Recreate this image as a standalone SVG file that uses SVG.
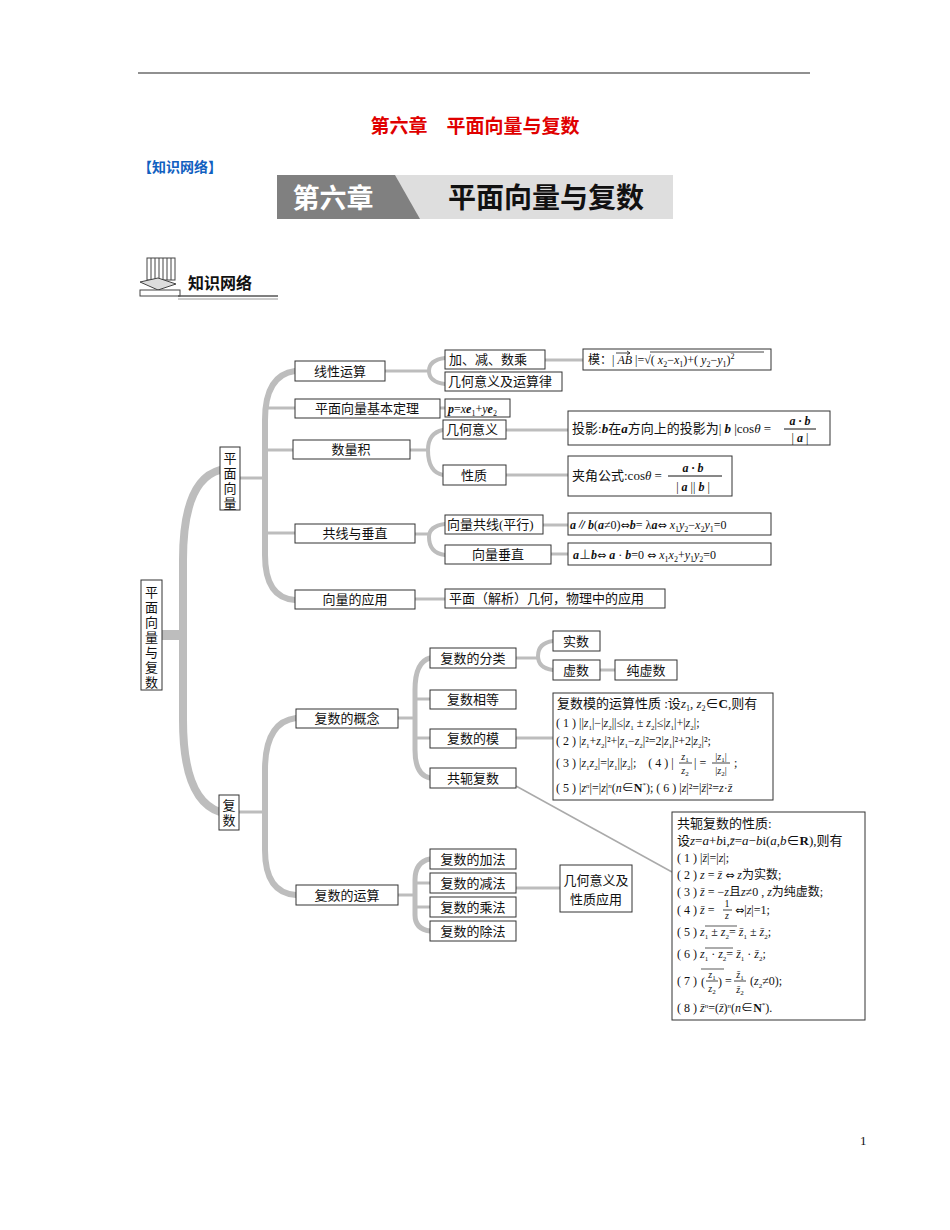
<svg xmlns="http://www.w3.org/2000/svg" width="950" height="1230" viewBox="0 0 950 1230">
<style>
text{font-family:"Liberation Serif","Noto Sans CJK SC",serif;fill:#111}
.b{fill:#fff;stroke:#333;stroke-width:1}
.t{font-size:13px}
.f{font-size:12px}
.c{text-anchor:middle}
.br{fill:none;stroke:#bdbdbd;stroke-width:5;stroke-linecap:round}
.ln{fill:none;stroke:#bdbdbd;stroke-width:3}
.it{font-style:italic}
.bd{font-weight:bold;font-style:italic}
.eq{font-family:"DejaVu Sans",sans-serif;font-size:11px}
</style>
<line x1="138" y1="73" x2="810" y2="73" stroke="#222" stroke-width="1.2"/>
<text x="475" y="133" class="c" style="font-size:19px;font-weight:bold;fill:#e00000">第六章　平面向量与复数</text>
<text x="138" y="172" style="font-size:14px;font-weight:bold;fill:#1060c0">【知识网络】</text>
<g id="banner">
<rect x="277" y="175" width="396" height="44" fill="#dedede"/>
<polygon points="277,175 395,175 420,219 277,219" fill="#808080"/>
<text x="333" y="208" class="c" style="font-size:27px;font-weight:bold;fill:#fff;font-family:'Noto Sans CJK SC',sans-serif">第六章</text>
<text x="546" y="208" class="c" style="font-size:28px;font-weight:bold;fill:#111;font-family:'Noto Sans CJK SC',sans-serif">平面向量与复数</text>
</g>
<g id="icon">
<rect x="147" y="258" width="28" height="22" fill="#fff" stroke="#444"/>
<path d="M151,258v22M155,258v22M159,258v22M163,258v22M167,258v22M171,258v22" stroke="#444"/>
<path d="M140,282 l18,-4 l18,6 l-18,6z" fill="#ddd" stroke="#444"/>
<rect x="140" y="290" width="40" height="6" fill="#fff" stroke="#444"/>
<text x="188" y="289" style="font-size:16px;font-weight:bold;font-family:'Noto Sans CJK SC',sans-serif">知识网络</text>
<line x1="178" y1="296" x2="278" y2="296" stroke="#555" stroke-width="1.5"/>
<line x1="178" y1="299" x2="278" y2="299" stroke="#999" stroke-width="1"/>
</g>
<g id="connectors">
<line x1="162" y1="635" x2="184" y2="635" stroke="#bdbdbd" stroke-width="10"/>
<path class="br" style="stroke-width:8" d="M220,470 Q183,480 183,560 L183,720 Q183,800 220,812"/>
<line class="ln" x1="240" y1="478" x2="266" y2="478"/>
<path class="br" style="stroke-width:6" d="M295,371 Q265,375 265,420 L265,555 Q265,598 295,600"/>
<line class="ln" x1="265" y1="408" x2="295" y2="408"/>
<line class="ln" x1="265" y1="450" x2="293" y2="450"/>
<line class="ln" x1="265" y1="533" x2="295" y2="533"/>
<line class="ln" x1="239" y1="812" x2="266" y2="812"/>
<path class="br" style="stroke-width:6" d="M296,718 Q265,722 265,770 L265,850 Q265,893 296,895"/>
<line class="ln" x1="385" y1="371" x2="430" y2="371"/>
<path class="br" style="stroke-width:4" d="M445,358 Q429,360 429,371 Q429,382 445,384"/>
<line class="ln" x1="440" y1="408" x2="445" y2="408"/>
<line class="ln" x1="410" y1="450" x2="429" y2="450"/>
<path class="br" style="stroke-width:4" d="M443,430 Q428,433 428,450 Q428,472 443,475"/>
<line class="ln" x1="415" y1="534" x2="429" y2="534"/>
<path class="br" style="stroke-width:4" d="M445,524 Q429,526 429,537 Q429,553 445,555"/>
<line class="ln" x1="415" y1="599" x2="445" y2="599"/>
<line class="ln" x1="545" y1="360" x2="583" y2="360"/>
<line class="ln" x1="506" y1="430" x2="568" y2="430"/>
<line class="ln" x1="506" y1="475" x2="568" y2="475"/>
<line class="ln" x1="543" y1="525" x2="568" y2="525"/>
<line class="ln" x1="551" y1="554" x2="568" y2="554"/>
<line class="ln" x1="398" y1="718" x2="416" y2="718"/>
<path class="br" style="stroke-width:5" d="M430,658 Q415,662 415,690 L415,750 Q415,775 430,778"/>
<line class="ln" x1="415" y1="699" x2="430" y2="699"/>
<line class="ln" x1="415" y1="738" x2="430" y2="738"/>
<line class="ln" x1="516" y1="658" x2="539" y2="658"/>
<path class="br" style="stroke-width:4" d="M553,641 Q538,643 538,656 Q538,668 553,670"/>
<line class="ln" x1="600" y1="670" x2="615" y2="670"/>
<line class="ln" x1="516" y1="738" x2="553" y2="738"/>
<line x1="516" y1="786" x2="672" y2="872" stroke="#aaa" stroke-width="1.5"/>
<line class="ln" x1="398" y1="895" x2="416" y2="895"/>
<path class="br" style="stroke-width:5" d="M430,859 Q415,862 415,880 L415,915 Q415,929 430,931"/>
<line class="ln" x1="415" y1="883" x2="430" y2="883"/>
<line class="ln" x1="415" y1="907" x2="430" y2="907"/>
<line class="ln" x1="516" y1="888" x2="560" y2="888"/>
</g>
<g id="root"><rect class="b" x="141" y="580" width="21" height="110"/>
<text class="t c" x="151.5" y="597"><tspan x="151.5">平</tspan><tspan x="151.5" dy="15">面</tspan><tspan x="151.5" dy="15">向</tspan><tspan x="151.5" dy="15">量</tspan><tspan x="151.5" dy="15">与</tspan><tspan x="151.5" dy="15">复</tspan><tspan x="151.5" dy="15">数</tspan></text></g>
<g id="vec"><rect class="b" x="220" y="447" width="20" height="63"/>
<text class="t c" x="230" y="463"><tspan x="230">平</tspan><tspan x="230" dy="15">面</tspan><tspan x="230" dy="15">向</tspan><tspan x="230" dy="15">量</tspan></text></g>
<g id="cplx"><rect class="b" x="219" y="795" width="20" height="35"/>
<text class="t c" x="229" y="810"><tspan x="229">复</tspan><tspan x="229" dy="15">数</tspan></text></g>
<g id="n1"><rect class="b" x="295" y="361" width="90" height="20"/><text class="t c" x="340" y="376">线性运算</text></g>
<g id="n2"><rect class="b" x="295" y="399" width="145" height="19"/><text class="t c" x="367" y="413">平面向量基本定理</text></g>
<g id="n3"><rect class="b" x="293" y="440" width="117" height="19"/><text class="t c" x="351" y="454">数量积</text></g>
<g id="n4"><rect class="b" x="295" y="524" width="120" height="19"/><text class="t c" x="355" y="538">共线与垂直</text></g>
<g id="n5"><rect class="b" x="295" y="590" width="120" height="19"/><text class="t c" x="355" y="604">向量的应用</text></g>
<g id="m1"><rect class="b" x="445" y="350" width="100" height="19"/><text class="t" x="449" y="364">加、减、数乘</text></g>
<g id="m2"><rect class="b" x="445" y="372" width="117" height="19"/><text class="t" x="448" y="386">几何意义及运算律</text></g>
<g id="m3"><rect class="b" x="445" y="399" width="65" height="18"/><text class="f" x="448" y="413"><tspan class="bd">p</tspan>=<tspan class="it">x</tspan><tspan class="bd">e</tspan><tspan dy="3" font-size="8">1</tspan><tspan dy="-3">+</tspan><tspan class="it">y</tspan><tspan class="bd">e</tspan><tspan dy="3" font-size="8">2</tspan></text></g>
<g id="m4"><rect class="b" x="443" y="420" width="63" height="19"/><text class="t" x="446" y="434">几何意义</text></g>
<g id="m5"><rect class="b" x="443" y="465" width="63" height="20"/><text class="t c" x="474" y="480">性质</text></g>
<g id="m6"><rect class="b" x="445" y="515" width="98" height="19"/><text class="t" x="447" y="529">向量共线(平行)</text></g>
<g id="m7"><rect class="b" x="445" y="545" width="106" height="19"/><text class="t c" x="498" y="559">向量垂直</text></g>
<g id="m8"><rect class="b" x="445" y="589" width="220" height="19"/><text class="t" x="449" y="603">平面（解析）几何，物理中的应用</text></g>
<g id="q1"><rect class="b" x="583" y="349" width="188" height="21"/><text class="f" x="588" y="364">模：| <tspan class="it">AB</tspan> |=√( <tspan class="it">x</tspan><tspan dy="3" font-size="8">2</tspan><tspan dy="-3">−</tspan><tspan class="it">x</tspan><tspan dy="3" font-size="8">1</tspan><tspan dy="-3">)+( </tspan><tspan class="it">y</tspan><tspan dy="3" font-size="8">2</tspan><tspan dy="-3">−</tspan><tspan class="it">y</tspan><tspan dy="3" font-size="8">1</tspan><tspan dy="-3">)</tspan><tspan dy="-5" font-size="8">2</tspan></text>
<path d="M616,353 H630 M627,351 L630,353 L627,355" fill="none" stroke="#111" stroke-width="0.8"/><line x1="650" y1="352" x2="764" y2="352" stroke="#111" stroke-width="0.8"/></g>
<g id="q2"><rect class="b" x="568" y="411" width="262" height="34"/><text class="t" x="572" y="433">投影:<tspan class="bd">b</tspan>在<tspan class="bd">a</tspan>方向上的投影为| <tspan class="bd">b</tspan> |cos<tspan class="it">θ</tspan> =</text>
<text class="f c bd" x="800" y="425">a · b</text><line x1="784" y1="429" x2="816" y2="429" stroke="#111"/><text class="f c" x="800" y="442">| <tspan class="bd">a</tspan> |</text></g>
<g id="q3"><rect class="b" x="568" y="456" width="164" height="40"/><text class="t" x="572" y="480">夹角公式:cos<tspan class="it">θ</tspan> =</text>
<text class="f c bd" x="693" y="472">a · b</text><line x1="668" y1="476" x2="722" y2="476" stroke="#111"/><text class="f c" x="693" y="491">| <tspan class="bd">a</tspan> || <tspan class="bd">b</tspan> |</text></g>
<g id="q4"><rect class="b" x="568" y="513" width="203" height="22"/><text class="f" x="570" y="529"><tspan class="bd">a</tspan>∥<tspan class="bd">b</tspan>(<tspan class="bd">a</tspan>≠0)<tspan class="eq">⇔</tspan><tspan class="bd">b</tspan>= λ<tspan class="bd">a</tspan><tspan class="eq">⇔</tspan> <tspan class="it">x</tspan><tspan dy="3" font-size="8">1</tspan><tspan class="it" dy="-3">y</tspan><tspan dy="3" font-size="8">2</tspan><tspan dy="-3">−</tspan><tspan class="it">x</tspan><tspan dy="3" font-size="8">2</tspan><tspan class="it" dy="-3">y</tspan><tspan dy="3" font-size="8">1</tspan><tspan dy="-3">=0</tspan></text></g>
<g id="q5"><rect class="b" x="568" y="543" width="203" height="22"/><text class="f" x="573" y="559"><tspan class="bd">a</tspan>⊥<tspan class="bd">b</tspan><tspan class="eq">⇔</tspan> <tspan class="bd">a</tspan> · <tspan class="bd">b</tspan>=0 <tspan class="eq">⇔</tspan> <tspan class="it">x</tspan><tspan dy="3" font-size="8">1</tspan><tspan class="it" dy="-3">x</tspan><tspan dy="3" font-size="8">2</tspan><tspan dy="-3">+</tspan><tspan class="it">y</tspan><tspan dy="3" font-size="8">1</tspan><tspan class="it" dy="-3">y</tspan><tspan dy="3" font-size="8">2</tspan><tspan dy="-3">=0</tspan></text></g>
<g id="k1"><rect class="b" x="296" y="709" width="102" height="19"/><text class="t c" x="347" y="723">复数的概念</text></g>
<g id="k2"><rect class="b" x="296" y="885" width="102" height="20"/><text class="t c" x="347" y="900">复数的运算</text></g>
<g id="c1"><rect class="b" x="430" y="648" width="86" height="20"/><text class="t c" x="473" y="663">复数的分类</text></g>
<g id="c2"><rect class="b" x="430" y="690" width="86" height="19"/><text class="t c" x="473" y="704">复数相等</text></g>
<g id="c3"><rect class="b" x="430" y="729" width="86" height="19"/><text class="t c" x="473" y="743">复数的模</text></g>
<g id="c4"><rect class="b" x="430" y="768" width="86" height="20"/><text class="t c" x="473" y="783">共轭复数</text></g>
<g id="r1"><rect class="b" x="553" y="631" width="47" height="20"/><text class="t c" x="576" y="646">实数</text></g>
<g id="r2"><rect class="b" x="553" y="660" width="47" height="20"/><text class="t c" x="576" y="675">虚数</text></g>
<g id="r3"><rect class="b" x="615" y="660" width="62" height="20"/><text class="t c" x="646" y="675">纯虚数</text></g>
<g id="mod"><rect class="b" x="553" y="693" width="220" height="107"/>
<text class="t" x="557" y="708">复数模的运算性质 :设<tspan class="it">z</tspan><tspan dy="3" font-size="8">1</tspan><tspan dy="-3">, </tspan><tspan class="it">z</tspan><tspan dy="3" font-size="8">2</tspan><tspan dy="-3">∈</tspan><tspan font-weight="bold">C</tspan>,则有</text>
<text class="f" x="556" y="727">( 1 ) ||<tspan class="it">z</tspan><tspan dy="3" font-size="7">1</tspan><tspan dy="-3">|−|</tspan><tspan class="it">z</tspan><tspan dy="3" font-size="7">2</tspan><tspan dy="-3">||≤|</tspan><tspan class="it">z</tspan><tspan dy="3" font-size="7">1</tspan><tspan dy="-3"> ± </tspan><tspan class="it">z</tspan><tspan dy="3" font-size="7">2</tspan><tspan dy="-3">|≤|</tspan><tspan class="it">z</tspan><tspan dy="3" font-size="7">1</tspan><tspan dy="-3">|+|</tspan><tspan class="it">z</tspan><tspan dy="3" font-size="7">2</tspan><tspan dy="-3">|;</tspan></text>
<text class="f" x="556" y="745">( 2 ) |<tspan class="it">z</tspan><tspan dy="3" font-size="7">1</tspan><tspan dy="-3">+</tspan><tspan class="it">z</tspan><tspan dy="3" font-size="7">2</tspan><tspan dy="-3">|²+|</tspan><tspan class="it">z</tspan><tspan dy="3" font-size="7">1</tspan><tspan dy="-3">−</tspan><tspan class="it">z</tspan><tspan dy="3" font-size="7">2</tspan><tspan dy="-3">|²=2|</tspan><tspan class="it">z</tspan><tspan dy="3" font-size="7">1</tspan><tspan dy="-3">|²+2|</tspan><tspan class="it">z</tspan><tspan dy="3" font-size="7">2</tspan><tspan dy="-3">|²;</tspan></text>
<text class="f" x="556" y="767">( 3 ) |<tspan class="it">z</tspan><tspan dy="3" font-size="7">1</tspan><tspan class="it" dy="-3">z</tspan><tspan dy="3" font-size="7">2</tspan><tspan dy="-3">|=|</tspan><tspan class="it">z</tspan><tspan dy="3" font-size="7">1</tspan><tspan dy="-3">||</tspan><tspan class="it">z</tspan><tspan dy="3" font-size="7">2</tspan><tspan dy="-3">|;　( 4 ) |</tspan></text>
<text class="c it" x="685" y="760" font-size="10">z<tspan dy="2" font-size="7" font-style="normal">1</tspan></text><line x1="679" y1="763" x2="692" y2="763" stroke="#111" stroke-width="0.8"/><text class="c it" x="685" y="774" font-size="10">z<tspan dy="2" font-size="7" font-style="normal">2</tspan></text>
<text class="f" x="694" y="767">| =</text>
<text class="c" x="721" y="760" font-size="10">|<tspan class="it">z</tspan><tspan font-size="7" dy="2">1</tspan><tspan dy="-2">|</tspan></text><line x1="712" y1="763" x2="730" y2="763" stroke="#111" stroke-width="0.8"/><text class="c" x="721" y="774" font-size="10">|<tspan class="it">z</tspan><tspan font-size="7" dy="2">2</tspan><tspan dy="-2">|</tspan></text>
<text class="f" x="734" y="767">;</text>
<text class="f" x="556" y="792">( 5 ) |<tspan class="it">z</tspan><tspan dy="-4" font-size="7" class="it">n</tspan><tspan dy="4">|=|</tspan><tspan class="it">z</tspan><tspan dy="0">|</tspan><tspan dy="-4" font-size="7" class="it">n</tspan><tspan dy="4">(</tspan><tspan class="it">n</tspan>∈<tspan font-weight="bold">N</tspan><tspan dy="-5" font-size="7">*</tspan><tspan dy="5">); ( 6 ) |</tspan><tspan class="it">z</tspan>|²=|<tspan class="it">z̄</tspan>|²=<tspan class="it">z</tspan>·<tspan class="it">z̄</tspan></text>
</g>
<g id="a1"><rect class="b" x="430" y="849" width="86" height="20"/><text class="t c" x="473" y="864">复数的加法</text></g>
<g id="a2"><rect class="b" x="430" y="873" width="86" height="20"/><text class="t c" x="473" y="888">复数的减法</text></g>
<g id="a3"><rect class="b" x="430" y="897" width="86" height="20"/><text class="t c" x="473" y="912">复数的乘法</text></g>
<g id="a4"><rect class="b" x="430" y="921" width="86" height="20"/><text class="t c" x="473" y="936">复数的除法</text></g>
<g id="geo"><rect class="b" x="560" y="865" width="72" height="47"/><text class="t c" x="596" y="885">几何意义及</text><text class="t c" x="596" y="904">性质应用</text></g>
<g id="conj"><rect class="b" x="672" y="812" width="193" height="208"/>
<text class="t" x="677" y="828">共轭复数的性质:</text>
<text class="t" x="677" y="845">设<tspan class="it">z</tspan>=<tspan class="it">a</tspan>+<tspan class="it">b</tspan>i,<tspan class="it">z̄</tspan>=<tspan class="it">a</tspan>−<tspan class="it">b</tspan>i(<tspan class="it">a</tspan>,<tspan class="it">b</tspan>∈<tspan font-weight="bold">R</tspan>),则有</text>
<text class="f" x="677" y="862">( 1 ) |<tspan class="it">z̄</tspan>|=|<tspan class="it">z</tspan>|;</text>
<text class="f" x="677" y="879">( 2 ) <tspan class="it">z</tspan> = <tspan class="it">z̄</tspan> <tspan class="eq">⇔</tspan> <tspan class="it">z</tspan>为实数;</text>
<text class="f" x="677" y="896">( 3 ) <tspan class="it">z̄</tspan> = −<tspan class="it">z</tspan>且<tspan class="it">z</tspan>≠0 , <tspan class="it">z</tspan>为纯虚数;</text>
<text class="f" x="677" y="914">( 4 ) <tspan class="it">z̄</tspan> =</text>
<text class="c" x="727" y="907" font-size="10">1</text><line x1="723" y1="910" x2="732" y2="910" stroke="#111" stroke-width="0.8"/><text class="c it" x="727" y="919" font-size="10">z</text>
<text class="f" x="735" y="914"><tspan class="eq">⇔</tspan>|<tspan class="it">z</tspan>|=1;</text>
<text class="f" x="677" y="936">( 5 ) <tspan class="it">z</tspan><tspan dy="3" font-size="7">1</tspan><tspan dy="-3"> ± </tspan><tspan class="it">z</tspan><tspan dy="3" font-size="7">2</tspan><tspan dy="-3">= </tspan><tspan class="it">z̄</tspan><tspan dy="3" font-size="7">1</tspan><tspan dy="-3"> ± </tspan><tspan class="it">z̄</tspan><tspan dy="3" font-size="7">2</tspan><tspan dy="-3">;</tspan></text>
<line x1="705" y1="926" x2="737" y2="926" stroke="#111" stroke-width="0.7"/>
<text class="f" x="677" y="958">( 6 ) <tspan class="it">z</tspan><tspan dy="3" font-size="7">1</tspan><tspan dy="-3"> · </tspan><tspan class="it">z</tspan><tspan dy="3" font-size="7">2</tspan><tspan dy="-3">= </tspan><tspan class="it">z̄</tspan><tspan dy="3" font-size="7">1</tspan><tspan dy="-3"> · </tspan><tspan class="it">z̄</tspan><tspan dy="3" font-size="7">2</tspan><tspan dy="-3">;</tspan></text>
<line x1="705" y1="948" x2="733" y2="948" stroke="#111" stroke-width="0.7"/>
<text class="f" x="677" y="985">( 7 )</text>
<text class="f" x="701" y="986" font-size="18">(</text><text class="f" x="718" y="986" font-size="18">)</text>
<line x1="701" y1="969" x2="724" y2="969" stroke="#111" stroke-width="0.7"/>
<text class="c it" x="712" y="978" font-size="10">z<tspan dy="2" font-size="7" font-style="normal">1</tspan></text><line x1="706" y1="981" x2="718" y2="981" stroke="#111" stroke-width="0.8"/><text class="c it" x="712" y="992" font-size="10">z<tspan dy="2" font-size="7" font-style="normal">2</tspan></text>
<text class="f" x="725" y="985">=</text>
<text class="c it" x="740" y="978" font-size="10">z̄<tspan dy="2" font-size="7" font-style="normal">1</tspan></text><line x1="734" y1="981" x2="746" y2="981" stroke="#111" stroke-width="0.8"/><text class="c it" x="740" y="993" font-size="10">z̄<tspan dy="2" font-size="7" font-style="normal">2</tspan></text>
<text class="f" x="750" y="985">(<tspan class="it">z</tspan><tspan dy="3" font-size="7">2</tspan><tspan dy="-3">≠0);</tspan></text>
<text class="f" x="677" y="1012">( 8 ) <tspan class="it">z̄</tspan><tspan dy="-4" font-size="7" class="it">n</tspan><tspan dy="4">=(</tspan><tspan class="it">z̄</tspan>)<tspan dy="-4" font-size="7" class="it">n</tspan><tspan dy="4">(</tspan><tspan class="it">n</tspan>∈<tspan font-weight="bold">N</tspan><tspan dy="-5" font-size="7">*</tspan><tspan dy="5">).</tspan></text>
</g>
<text x="860" y="1145" style="font-size:13px">1</text>
</svg>
